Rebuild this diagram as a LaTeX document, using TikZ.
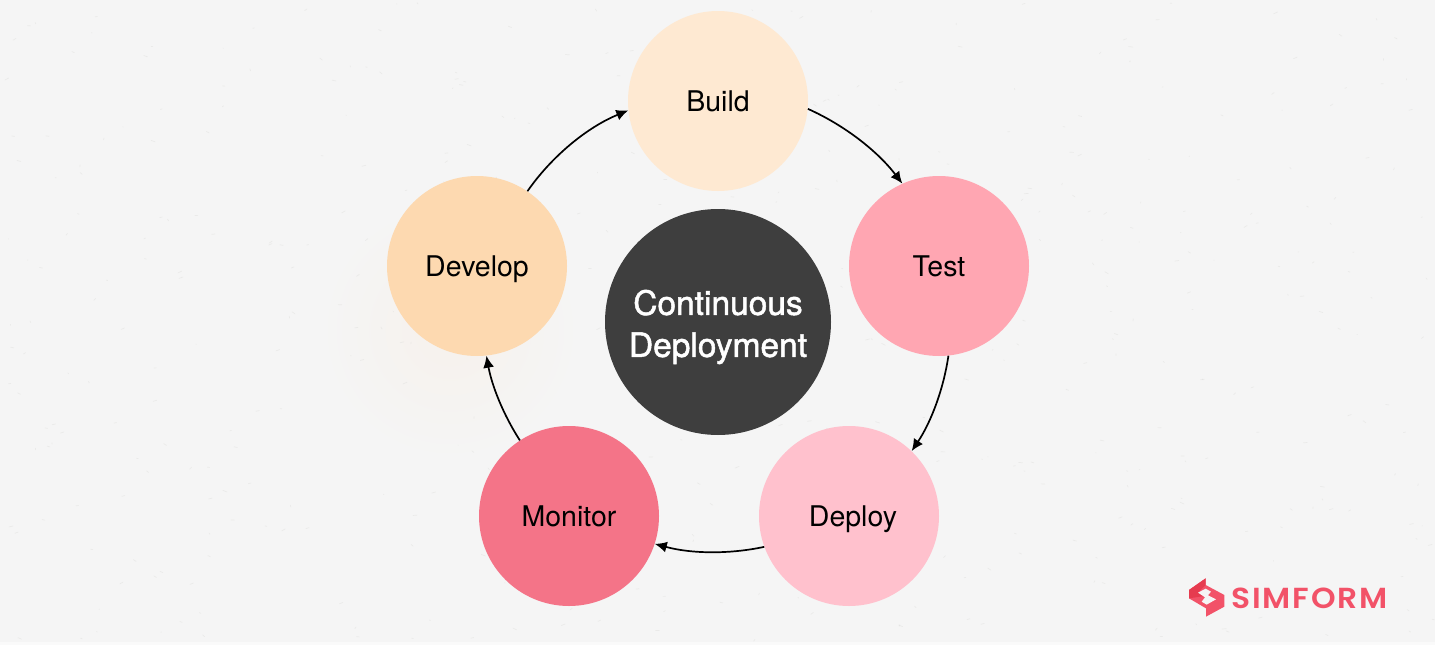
\documentclass[tikz,border=0pt]{standalone}
\usepackage{fontspec}
\setmainfont{TeX Gyre Heros}
\newfontfamily\medfont[FakeBold=1.5]{TeX Gyre Heros}
\newfontfamily\logofont[LetterSpace=6]{Poppins SemiBold}
\usetikzlibrary{arrows.meta}
\definecolor{bgc}{HTML}{F5F5F5}
\definecolor{bottomc}{HTML}{FAFAFA}
\definecolor{warm}{HTML}{F6F1EC}
\definecolor{fleck}{HTML}{DEDEDC}
\definecolor{cbuild}{HTML}{FEE9D2}
\definecolor{ctest}{HTML}{FFA6B2}
\definecolor{cdeploy}{HTML}{FFC1CD}
\definecolor{cmonitor}{HTML}{F47488}
\definecolor{cdevelop}{HTML}{FDD9B0}
\definecolor{ccenter}{HTML}{3E3E3E}
\definecolor{simred}{HTML}{F25268}
\definecolor{simdark}{HTML}{E63B4F}
\tikzset{
  phase/.style={circle,minimum size=180pt,inner sep=0pt,text height=20pt,text depth=0pt,font=\fontsize{28.5}{32}\selectfont,text=black},
  link/.style={-{Latex[length=12pt,width=11pt]},line width=1.7pt,black,looseness=0.86},
}
\begin{document}
\begin{tikzpicture}[x=1pt,y=-1pt]
\useasboundingbox (0,0) rectangle (1435,645);
\fill[bgc] (0,0) rectangle (1435,645);
\fill[bottomc] (0,642) rectangle (1435,645);
\shade[inner color=warm,outer color=bgc] (450,330) circle (130);
\pgfmathsetseed{42}
\foreach \i in {1,...,500}{
  \pgfmathsetmacro{\px}{rnd*1435}
  \pgfmathsetmacro{\py}{rnd*640}
  \pgfmathsetmacro{\dx}{rnd*8-4}
  \pgfmathsetmacro{\dy}{rnd*4-2}
  \draw[fleck,line width=0.7pt,opacity=0.45,line cap=round] (\px,\py) -- ++(\dx,\dy);
}
\node[phase,fill=cbuild] (build) at (718,101) {Build};
\node[phase,fill=ctest] (test) at (939,266) {Test};
\node[phase,fill=cdeploy] (deploy) at (849,516) {\hspace*{8pt}Deploy};
\node[phase,fill=cmonitor] (monitor) at (569,516) {Monitor};
\node[phase,fill=cdevelop] (develop) at (477,266) {Develop};
\node[circle,minimum size=226pt,inner sep=0pt,fill=ccenter,text=white,font=\medfont\fontsize{33.5}{42}\selectfont] (center) at (718,322) {\parbox{210pt}{\centering\vspace*{10pt}Continuous\\Deployment}};
\draw[link] (build.-5) to[bend left=14.3] (test.114);
\draw[link] (test.-84) to[bend left=12.7] (deploy.46);
\draw[link] (deploy.200) to[bend left=13.7] (monitor.-18);
\draw[link] (monitor.123) to[bend left=11.3] (develop.-84);
\draw[link] (develop.56) to[bend left=16.5] (build.186);
\begin{scope}[shift={(1170,560)},x=0.3333pt,y=-0.3333pt]
\fill[simred] (57,90) -- (107,55) -- (107,75) -- (163,105) -- (163,140) -- (108,170) -- (108,145) -- (57,115) -- cycle;
\fill[simdark] (57,90) -- (107,55) -- (107,75) -- (84,98) -- (123,95) -- (114,106) -- (90,110) -- (57,115) -- cycle;
\fill[bgc] (84,98) -- (107,86) -- (123,95) -- (114,106) -- (138,118) -- (110,134) -- (95,125) -- (105,112) -- cycle;
\end{scope}
\node[anchor=west,inner sep=0pt,text=simred,font=\logofont\fontsize{29}{30}\selectfont] (logo) at (1231,598) {\scalebox{1.08}[1]{SIMFORM}};
\end{tikzpicture}
\end{document}
